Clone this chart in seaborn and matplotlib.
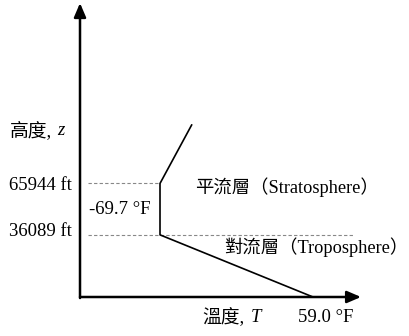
import matplotlib
matplotlib.use('Agg')
import matplotlib.pyplot as plt
import seaborn as sns
import pandas as pd

# ---- data (schematic standard-atmosphere profile) ----
temps_F = [59.0, -69.7, -69.7, -43.0]
alts_ft = [0, 36089, 65944, 100000]
layer_alts = [36089, 65944]
alt_labels = ['36089 ft', '65944 ft']
tropopause_temp_label = '-69.7 °F'
surface_temp_label = '59.0 °F'
layer_names = ['對流層（Troposphere）', '平流層（Stratosphere）']
x_name, x_sym = '溫度,', 'T'
y_name, y_sym = '高度,', 'z'

df = pd.DataFrame({'T': temps_F, 'z': alts_ft})

sns.set_theme(style='white')
fam = ['Liberation Serif', 'Noto Sans CJK TC', 'DejaVu Sans']
plt.rcParams['font.family'] = fam

W, H = 410, 336
fig = plt.figure(figsize=(W / 100, H / 100), dpi=100)
ax = fig.add_axes([0, 0, 1, 1])
ax.set_xlim(-204.3, 140.6)
ax.set_ylim(-22648, 172474)
ax.axis('off')

# axes with arrows
T0, T_end, z_end = -137.0, 99.4, 170700
arrow = dict(arrowstyle='-|>,head_length=0.7,head_width=0.3', color='black',
             lw=1.8, shrinkA=0, shrinkB=0)
ax.annotate('', xy=(T_end, 0), xytext=(T0, 0), arrowprops=arrow)
ax.annotate('', xy=(T0, z_end), xytext=(T0, -600), arrowprops=arrow)

# dashed reference lines
dash_start = -130.3
ax.plot([dash_start, temps_F[1]], [layer_alts[1]] * 2, ls=(0, (3, 2)),
        color='#888888', lw=0.8)
ax.plot([dash_start, 92.4], [layer_alts[0]] * 2, ls=(0, (3, 2)),
        color='#888888', lw=0.8)

# temperature profile
sns.lineplot(data=df, x='T', y='z', sort=False, estimator=None,
             color='black', lw=1.2, ax=ax)
ax.axis('off')


def px(x, y):
    return x / W, 1 - y / H


fs = 13.5
lfs = 13.2
kw = dict(transform=ax.transAxes, color='black', family=fam)
ax.text(*px(72, 185), alt_labels[1], ha='right', va='center', fontsize=fs, **kw)
ax.text(*px(72, 232), alt_labels[0], ha='right', va='center', fontsize=fs, **kw)
ax.text(*px(120, 210), tropopause_temp_label, ha='center', va='center', fontsize=fs, **kw)
ax.text(*px(195, 187), layer_names[1], ha='left', va='center', fontsize=lfs, **kw)
ax.text(*px(224, 247), layer_names[0], ha='left', va='center', fontsize=lfs, **kw)
ax.text(*px(326, 318), surface_temp_label, ha='center', va='center', fontsize=fs, **kw)
ax.text(*px(202, 318), x_name, ha='left', va='center', fontsize=fs, **kw)
ax.text(*px(251, 318), x_sym, ha='left', va='center', style='italic', fontsize=fs, **kw)
ax.text(*px(10, 131), y_name, ha='left', va='center', fontsize=fs, **kw)
ax.text(*px(57, 131), y_sym, ha='left', va='center', style='italic', fontsize=fs, **kw)

fig.savefig('out.png', dpi=100)
